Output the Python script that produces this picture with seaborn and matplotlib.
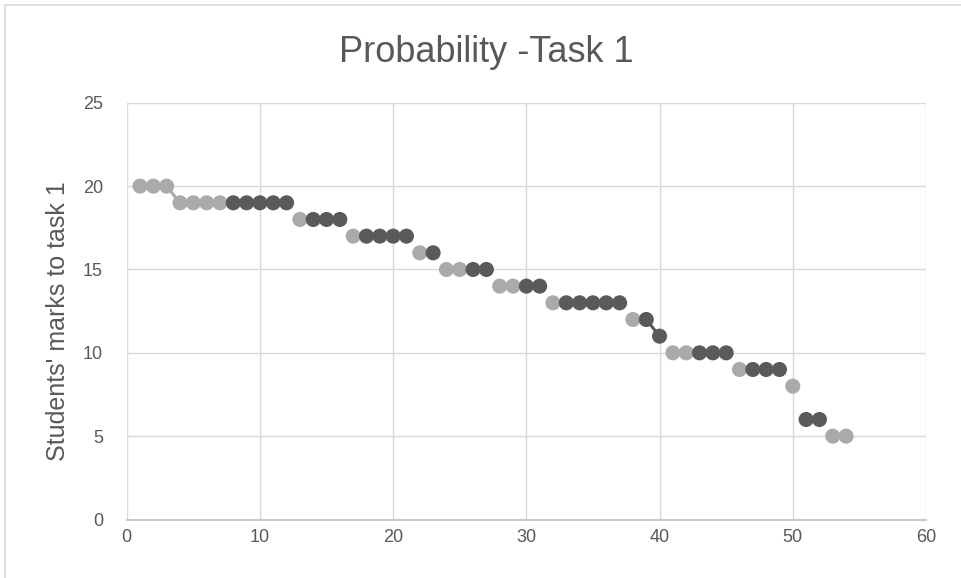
import numpy as np
import pandas as pd
import matplotlib
matplotlib.use("Agg")
import matplotlib.pyplot as plt
from matplotlib.patches import Rectangle
import seaborn as sns

# Student index and marks, split into the two shaded series (None = no point)
students = list(range(1, 55))
light_marks = [20, 20, 20, 19, 19, 19, 19, None, None, None,
               None, None, 18, None, None, None, 17, None, None, None,
               None, 16, None, 15, 15, None, None, 14, 14, None,
               None, 13, None, None, None, None, None, 12, None, None,
               10, 10, None, None, None, 9, None, None, None, 8,
               None, None, 5, 5]
dark_marks = [None, None, None, None, None, None, None, 19, 19, 19,
              19, 19, None, 18, 18, 18, None, 17, 17, 17,
              17, None, 16, None, None, 15, 15, None, None, 14,
              14, None, 13, 13, 13, 13, 13, None, 12, 11,
              None, None, 10, 10, 10, None, 9, 9, 9, None,
              6, 6, None, None]

x_ticks = [0, 10, 20, 30, 40, 50, 60]
y_ticks = [0, 5, 10, 15, 20, 25]
title = "Probability -Task 1"
y_label = "Students' marks to task 1"

light_col = "#aaaaaa"
dark_col = "#5a5a5a"
text_col = "#595959"
grid_col = "#d9d9d9"

df = pd.DataFrame({
    "student": students,
    "light": pd.array(light_marks, dtype="Float64").astype(float),
    "dark": pd.array(dark_marks, dtype="Float64").astype(float),
})

sns.set_theme(style="white")
plt.rcParams["font.family"] = ["Liberation Sans", "DejaVu Sans"]

fig = plt.figure(figsize=(9.61, 5.78), dpi=100)
ax = fig.add_axes([126.7 / 961, 1 - 519.5 / 578, (926 - 126.7) / 961, (519.5 - 102.8) / 578])

# Chart frame
fig.patches.append(Rectangle((4.5 / 961, -0.1), 1.2, (578 - 5.5) / 578 + 0.1,
                             transform=fig.transFigure, fill=False,
                             edgecolor=grid_col, linewidth=1.2, zorder=0))

# Connecting lines (broken where a series has no value) and markers
for col, c in (("light", light_col), ("dark", dark_col)):
    ax.plot(df["student"], df[col], color=c, linewidth=2.2, zorder=2,
            solid_capstyle="round")
    sub = df.dropna(subset=[col])
    sns.scatterplot(data=sub, x="student", y=col, ax=ax, color=c, s=118,
                    edgecolor="none", linewidth=0, zorder=3, legend=False)

ax.set_xlim(0, 60)
ax.set_ylim(0, 25)
ax.set_xticks(x_ticks)
ax.set_yticks(y_ticks)
ax.set_xticklabels([str(v) for v in x_ticks])
ax.set_yticklabels([str(v) for v in y_ticks])
ax.grid(True, color=grid_col, linewidth=1.0, zorder=0)
ax.set_axisbelow(True)
for side in ("left", "right", "top"):
    ax.spines[side].set_visible(False)
ax.spines["bottom"].set_color("#bfbfbf")
ax.spines["bottom"].set_linewidth(1.2)
ax.tick_params(axis="both", length=0, labelsize=13, colors=text_col)
ax.tick_params(axis="y", pad=17)
ax.tick_params(axis="x", pad=7)
ax.set_xlabel("")
ax.set_ylabel(y_label, fontsize=18, color=text_col)
ax.yaxis.set_label_coords(-0.0705, 0.475)

fig.text(486 / 961, 1 - 62 / 578, title, ha="center", va="baseline",
         fontsize=26, color=text_col)

fig.savefig("out.png", dpi=100)
